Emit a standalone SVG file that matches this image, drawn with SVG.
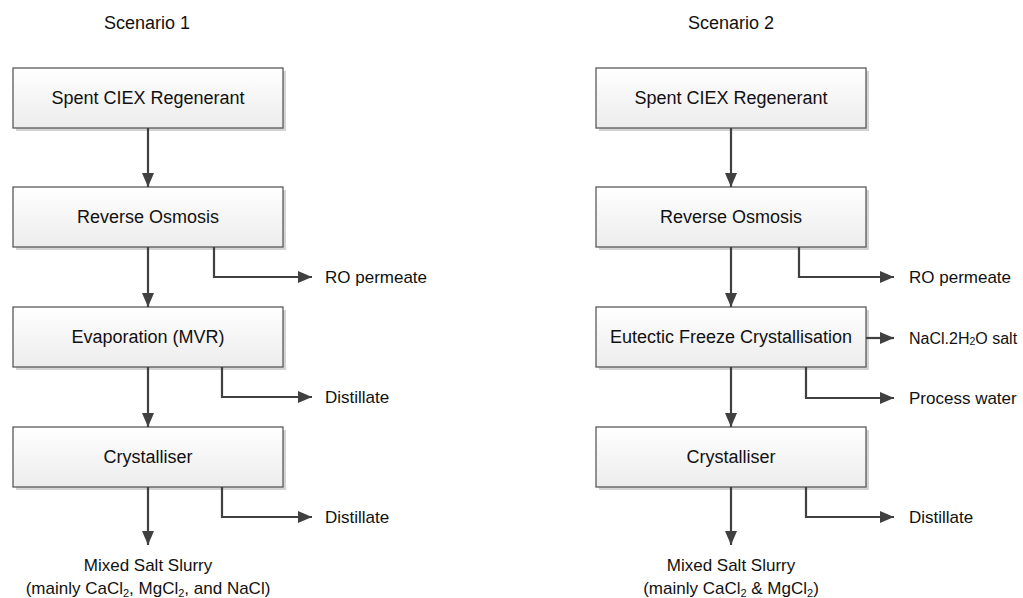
<svg xmlns="http://www.w3.org/2000/svg" width="1023" height="598" viewBox="0 0 1023 598">
<defs>
<linearGradient id="g" x1="0" y1="0" x2="0" y2="1">
<stop offset="0" stop-color="#ffffff"/>
<stop offset="1" stop-color="#ececec"/>
</linearGradient>
<marker id="ah" viewBox="0 0 14 12" refX="14" refY="6" markerWidth="14" markerHeight="12" markerUnits="userSpaceOnUse" orient="auto">
<path d="M0,0 L14,6 L0,12 Z" fill="#404040"/>
</marker>
</defs>
<style>
.box{fill:url(#g);stroke:#5a5a5a;stroke-width:1.3}
.sh{fill:#d4d4d4}
.bt{font-family:"Liberation Sans",Arial,sans-serif;font-size:18px;fill:#111;text-anchor:middle;dominant-baseline:central}
.lb{font-family:"Liberation Sans",Arial,sans-serif;font-size:17px;fill:#111;dominant-baseline:central}
.lc{font-family:"Liberation Sans",Arial,sans-serif;font-size:17px;fill:#111;text-anchor:middle}
.c{fill:none;stroke:#404040;stroke-width:2.2;marker-end:url(#ah)}
</style>
<rect width="1023" height="598" fill="#ffffff"/>
<text class="bt" x="147" y="23">Scenario 1</text>
<text class="bt" x="731" y="23">Scenario 2</text>

<g id="s1-n1"><rect class="sh" x="16" y="71" width="270" height="60"/><rect class="box" x="13" y="68" width="270" height="60"/><text class="bt" x="148" y="98">Spent CIEX Regenerant</text></g>
<g id="s1-n2"><rect class="sh" x="16" y="190" width="270" height="60"/><rect class="box" x="13" y="187" width="270" height="60"/><text class="bt" x="148" y="217">Reverse Osmosis</text></g>
<g id="s1-n3"><rect class="sh" x="16" y="310" width="270" height="60"/><rect class="box" x="13" y="307" width="270" height="60"/><text class="bt" x="148" y="337">Evaporation (MVR)</text></g>
<g id="s1-n4"><rect class="sh" x="16" y="430" width="270" height="60"/><rect class="box" x="13" y="427" width="270" height="60"/><text class="bt" x="148" y="457">Crystalliser</text></g>

<g id="s2-n1"><rect class="sh" x="599" y="71" width="270" height="60"/><rect class="box" x="596" y="68" width="270" height="60"/><text class="bt" x="731" y="98">Spent CIEX Regenerant</text></g>
<g id="s2-n2"><rect class="sh" x="599" y="190" width="270" height="60"/><rect class="box" x="596" y="187" width="270" height="60"/><text class="bt" x="731" y="217">Reverse Osmosis</text></g>
<g id="s2-n3"><rect class="sh" x="599" y="310" width="270" height="60"/><rect class="box" x="596" y="307" width="270" height="60"/><text class="bt" x="731" y="337">Eutectic Freeze Crystallisation</text></g>
<g id="s2-n4"><rect class="sh" x="599" y="430" width="270" height="60"/><rect class="box" x="596" y="427" width="270" height="60"/><text class="bt" x="731" y="457">Crystalliser</text></g>

<g id="connectors">
<path class="c" d="M148,128 V187"/>
<path class="c" d="M148,247 V307"/>
<path class="c" d="M148,367 V427"/>
<path class="c" d="M148,487 V545"/>
<path class="c" d="M214,247 V277 H312"/>
<path class="c" d="M222,367 V397 H312"/>
<path class="c" d="M222,487 V517 H312"/>

<path class="c" d="M731,128 V187"/>
<path class="c" d="M731,247 V307"/>
<path class="c" d="M731,367 V427"/>
<path class="c" d="M731,487 V545"/>
<path class="c" d="M799,247 V277 H894"/>
<path class="c" d="M866,338 H894"/>
<path class="c" d="M806,367 V398 H894"/>
<path class="c" d="M806,487 V517 H894"/>
</g>

<g id="labels">
<text class="lb" x="325" y="277">RO permeate</text>
<text class="lb" x="325" y="397">Distillate</text>
<text class="lb" x="325" y="517">Distillate</text>
<text class="lc" x="148" y="571">Mixed Salt Slurry</text>
<text class="lc" x="148" y="594">(mainly CaCl<tspan font-size="11" dy="3">2</tspan><tspan dy="-3">, MgCl</tspan><tspan font-size="11" dy="3">2</tspan><tspan dy="-3">, and NaCl)</tspan></text>

<text class="lb" x="909" y="277">RO permeate</text>
<text class="lb" x="909" y="338" style="font-size:16px">NaCl.2H<tspan font-size="10.5" dy="3">2</tspan><tspan dy="-3">O salt</tspan></text>
<text class="lb" x="909" y="398">Process water</text>
<text class="lb" x="909" y="517">Distillate</text>
<text class="lc" x="731" y="571">Mixed Salt Slurry</text>
<text class="lc" x="731" y="594">(mainly CaCl<tspan font-size="11" dy="3">2</tspan><tspan dy="-3"> &amp; MgCl</tspan><tspan font-size="11" dy="3">2</tspan><tspan dy="-3">)</tspan></text>
</g>
</svg>
